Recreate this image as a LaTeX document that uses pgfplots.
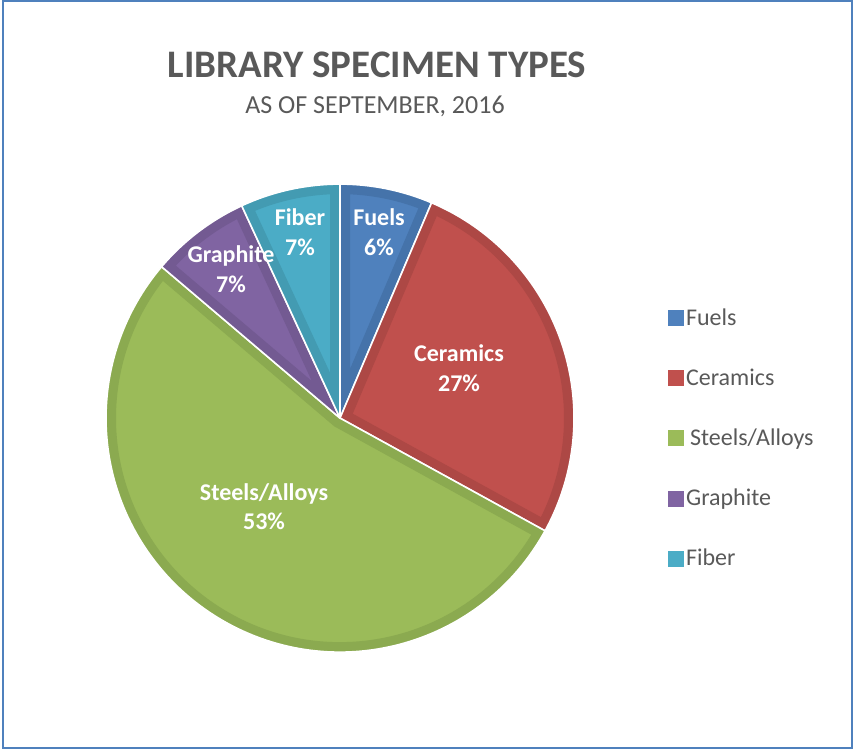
\documentclass[border=0pt]{standalone}
\usepackage{pgfplots}
\usepackage{pgfplotstable}
\pgfplotsset{compat=1.18}
\usepackage{fontspec}
\setmainfont{Carlito}
\definecolor{pie0}{HTML}{4F81BD}\definecolor{pied0}{HTML}{4573AA}
\definecolor{pie1}{HTML}{C0504D}\definecolor{pied1}{HTML}{AD4845}
\definecolor{pie2}{HTML}{9BBB59}\definecolor{pied2}{HTML}{8BAA50}
\definecolor{pie3}{HTML}{8064A2}\definecolor{pied3}{HTML}{735A92}
\definecolor{pie4}{HTML}{4BACC6}\definecolor{pied4}{HTML}{439BB2}
\definecolor{txtgray}{HTML}{595959}
\definecolor{frameblue}{HTML}{4F81BD}
\pgfplotstableread{
name value
Fuels 6.4
Ceramics 26.6
Steels/Alloys 53.2
Graphite 6.9
Fiber 6.9
}\piedata
\begin{document}
\begin{tikzpicture}
\pgfmathsetmacro\cum{90}
\pgfplotsforeachungrouped \i in {0,...,4}{%
  \pgfplotstablegetelem{\i}{value}\of\piedata
  \pgfmathsetmacro\endang{\cum-3.6*\pgfplotsretval}%
  \expandafter\xdef\csname sa\i\endcsname{\cum}%
  \expandafter\xdef\csname ea\i\endcsname{\endang}%
  \xdef\cum{\endang}%
}
\begin{axis}[x=1pt,y=1pt,xmin=0,xmax=854,ymin=0,ymax=752,
  scale only axis,hide axis,clip=false,
  legend cell align=left,
  legend style={at={(axis cs:668,446)},anchor=north west,draw=none,fill=none,
    font=\fontsize{24}{28}\selectfont\color{txtgray},row sep=37pt,
    inner sep=0pt,nodes={inner sep=2.5pt}},
  ]
\path (axis cs:0,0) rectangle (axis cs:854,752);
\draw[frameblue,line width=2.2pt] (axis cs:3,4) rectangle (axis cs:852,751);
\pgfplotsinvokeforeach{0,...,4}{
  \begin{scope}
  \clip (axis cs:340,334) -- ++(\csname sa#1\endcsname:234pt)
     arc[start angle=\csname sa#1\endcsname,end angle=\csname ea#1\endcsname,radius=234pt] -- cycle;
  \fill[pie#1,draw=pied#1,line width=20pt] (axis cs:340,334) -- ++(\csname sa#1\endcsname:234pt)
     arc[start angle=\csname sa#1\endcsname,end angle=\csname ea#1\endcsname,radius=234pt] -- cycle;
  \end{scope}
  \draw[white,line width=1.6pt,line join=round] (axis cs:340,334) -- ++(\csname sa#1\endcsname:234pt)
     arc[start angle=\csname sa#1\endcsname,end angle=\csname ea#1\endcsname,radius=234pt] -- cycle;
}
\addlegendimage{legend image code/.code={\fill[pie0] (0pt,-7.5pt) rectangle (15pt,7.5pt);}}\addlegendentry{Fuels}
\addlegendimage{legend image code/.code={\fill[pie1] (0pt,-7.5pt) rectangle (15pt,7.5pt);}}\addlegendentry{Ceramics}
\addlegendimage{legend image code/.code={\fill[pie2] (0pt,-7.5pt) rectangle (15pt,7.5pt);}}\addlegendentry{\,Steels/Alloys}
\addlegendimage{legend image code/.code={\fill[pie3] (0pt,-7.5pt) rectangle (15pt,7.5pt);}}\addlegendentry{Graphite}
\addlegendimage{legend image code/.code={\fill[pie4] (0pt,-7.5pt) rectangle (15pt,7.5pt);}}\addlegendentry{Fiber}
% title
\node[anchor=base,text=txtgray,font=\fontsize{39}{44}\selectfont\bfseries] at (axis cs:377,675) {LIBRARY SPECIMEN TYPES};
\node[anchor=base,text=txtgray,font=\fontsize{26}{30}\selectfont] at (axis cs:375,639) {AS OF SEPTEMBER, 2016};
% data labels
\tikzset{lab/.style={anchor=base,text=white,font=\fontsize{24}{28}\selectfont\bfseries}}
\node[lab] at (axis cs:379,527) {Fuels};
\node[lab] at (axis cs:379,497) {6\%};
\node[lab] at (axis cs:459,391) {Ceramics};
\node[lab] at (axis cs:459,361) {27\%};
\node[lab] at (axis cs:264,252) {Steels/Alloys};
\node[lab] at (axis cs:264,223) {53\%};
\node[lab] at (axis cs:231,490) {Graphite};
\node[lab] at (axis cs:231,460) {7\%};
\node[lab] at (axis cs:300,527) {Fiber};
\node[lab] at (axis cs:300,497) {7\%};
\end{axis}
\end{tikzpicture}
\end{document}
